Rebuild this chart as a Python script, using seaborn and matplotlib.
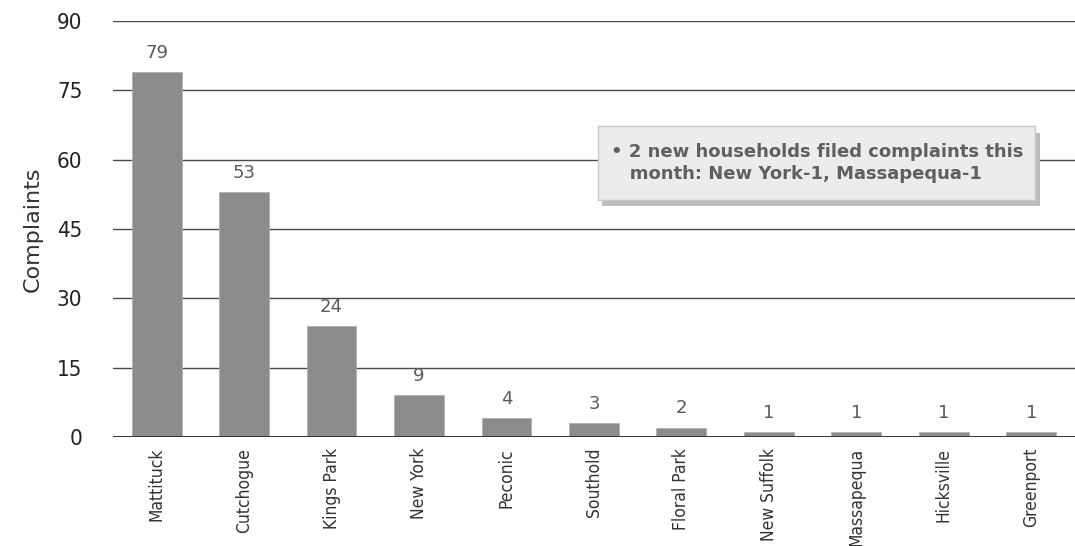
import matplotlib
matplotlib.use("Agg")
import matplotlib.pyplot as plt
import seaborn as sns
import pandas as pd
from matplotlib.patches import FancyBboxPatch

towns = ["Mattituck", "Cutchogue", "Kings Park", "New York", "Peconic", "Southold",
         "Floral Park", "New Suffolk", "Massapequa", "Hicksville", "Greenport"]
complaints = [79, 53, 24, 9, 4, 3, 2, 1, 1, 1, 1]
yticks = [0, 15, 30, 45, 60, 75, 90]
note = "\u2022 2 new households filed complaints this\n   month: New York-1, Massapequa-1"

sns.set_theme(style="white")
plt.rcParams["font.family"] = ["DejaVu Sans"]

df = pd.DataFrame({"town": towns, "complaints": complaints})

fig = plt.figure(figsize=(10.75, 5.46), dpi=100)
ax = fig.add_axes([0.105, 0.2, 0.895, 0.7615])

for y in yticks[1:]:
    ax.axhline(y, color="#4a4a4a", lw=1.0, zorder=0)

sns.barplot(data=df, x="town", y="complaints", color="#8c8c8c", width=0.57,
            saturation=1, ax=ax, zorder=3)

for p in ax.patches:
    p.set_edgecolor("#b0b0b0")
    p.set_linewidth(0.6)

for i, v in enumerate(complaints):
    ax.text(i, v + 2.2, str(v), ha="center", va="bottom", fontsize=13,
            color="#5a5a5a")

ax.axhline(0, color="#333333", lw=1.4, zorder=4)
ax.set_xlim(-0.5, 10.5)
ax.set_ylim(0, 90)
ax.set_yticks(yticks)
ax.set_yticklabels([str(t) for t in yticks], fontsize=16, color="#222222",
                   fontstretch="condensed")
ax.set_xticks(range(len(towns)))
ax.set_xticklabels(towns, rotation=90, fontsize=12.5, color="#333333",
                   fontstretch="condensed")
ax.tick_params(axis="x", length=0, pad=8)
ax.tick_params(axis="y", length=0, pad=22)
ax.set_xlabel("")
ax.set_ylabel("Complaints", fontsize=16, color="#333333", labelpad=10)
for s in ax.spines.values():
    s.set_visible(False)

# annotation box with shadow
bx0, by0, bw, bh = 0.556, 0.634, 0.407, 0.135
shadow = FancyBboxPatch((bx0 + 0.004, by0 - 0.012), bw, bh, boxstyle="square,pad=0",
                        transform=fig.transFigure, facecolor="#bdbdbd",
                        edgecolor="none", zorder=5)
box = FancyBboxPatch((bx0, by0), bw, bh, boxstyle="square,pad=0",
                     transform=fig.transFigure, facecolor="#ececec",
                     edgecolor="#c8c8c8", lw=1, zorder=6)
fig.patches.extend([shadow, box])
fig.text(bx0 + 0.012, by0 + bh / 2, note, fontsize=13, fontweight="bold",
         color="#606060", va="center", ha="left",
         linespacing=1.25, zorder=7)

fig.savefig("out.png", dpi=100)
